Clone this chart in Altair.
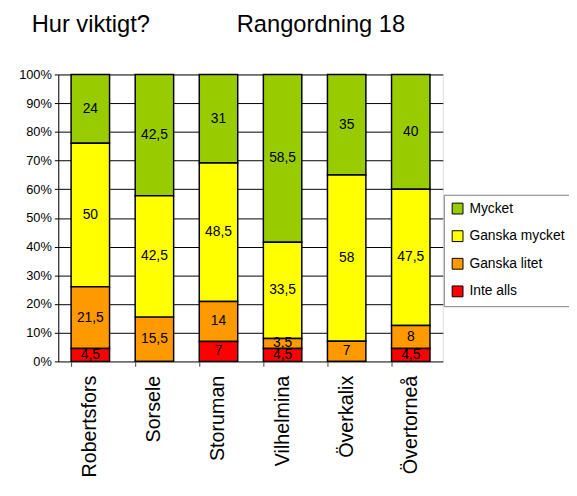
import altair as alt
import pandas as pd

categories = ["Robertsfors", "Sorsele", "Storuman", "Vilhelmina", "Överkalix", "Övertorneå"]
series = ["Mycket", "Ganska mycket", "Ganska litet", "Inte alls"]
colors = ["#99CC00", "#FFFF00", "#FF9900", "#FF0000"]
mycket = [24, 42.5, 31, 58.5, 35, 40]
ganska_mycket = [50, 42.5, 48.5, 33.5, 58, 47.5]
ganska_litet = [21.5, 15.5, 14, 3.5, 7, 8]
inte_alls = [4.5, 0, 7, 4.5, 0, 4.5]
title_left = "Hur viktigt?"
title_right = "Rangordning 18"
y_ticks = [i / 10 for i in range(11)]

rows = []
for ser_i, (name, vals) in enumerate(zip(series, [mycket, ganska_mycket, ganska_litet, inte_alls])):
    for cat, v in zip(categories, vals):
        rows.append({"cat": cat, "serie": name, "value": v, "ord": 3 - ser_i})
df = pd.DataFrame(rows)

FONT = "Liberation Sans"

base = alt.Chart(df).transform_stack(
    stack="value", groupby=["cat"], as_=["v0", "v1"],
    sort=[alt.SortField("ord", order="ascending")], offset="normalize"
).transform_calculate(
    mid="(datum.v0 + datum.v1) / 2",
    label="replace(format(datum.value, ''), '.', ',')"
)

xaxis = alt.Axis(labelAngle=270, labelFontSize=20, labelFont=FONT, labelColor="black",
                 bandPosition=0, tickColor="#404040", tickSize=5, labelPadding=9,
                 domainColor="#808080", grid=False)
yaxis = alt.Axis(values=y_ticks, format="%", labelFontSize=13, labelFont=FONT,
                 labelColor="black", grid=True, gridColor="black", gridWidth=1,
                 domainColor="black", tickColor="black", tickSize=4, labelPadding=3,
                 labelOverlap=False)
xscale = alt.Scale(paddingInner=0.4, paddingOuter=0.2)
yscale = alt.Scale(domain=[0, 1])

bars = base.mark_bar(stroke="black", strokeWidth=1.5).encode(
    x=alt.X("cat:N", sort=categories, title=None, scale=xscale, axis=xaxis),
    y=alt.Y("v0:Q", title=None, scale=yscale, axis=yaxis),
    y2="v1:Q",
    color=alt.Color("serie:N", scale=alt.Scale(domain=series, range=colors),
                    legend=alt.Legend(title=None, orient="none", legendX=391, legendY=122,
                                      symbolType="square", symbolSize=121,
                                      symbolStrokeColor="black", symbolStrokeWidth=1,
                                      labelFontSize=14, labelFont=FONT, labelColor="black",
                                      labelOffset=5, rowPadding=12, padding=7,
                                      strokeColor="#808080", fillColor="white",
                                      symbolOpacity=1)),
)

texts = base.transform_filter("datum.value > 0").mark_text(
    fontSize=14, font=FONT, color="black", baseline="middle"
).encode(
    x=alt.X("cat:N", sort=categories, title=None, scale=xscale, axis=xaxis),
    y=alt.Y("mid:Q", title=None, scale=yscale, axis=yaxis),
    text="label:N",
)

t1 = alt.Chart(pd.DataFrame({"t": [title_left]})).mark_text(
    fontSize=24, font=FONT, color="black", align="left", baseline="alphabetic"
).encode(x=alt.value(-27), y=alt.value(-43), text="t:N")

t2 = alt.Chart(pd.DataFrame({"t": [title_right]})).mark_text(
    fontSize=24, font=FONT, color="black", align="left", baseline="alphabetic"
).encode(x=alt.value(181), y=alt.value(-43), text="t:N")

chart = alt.layer(bars, texts, t1, t2).properties(
    width=390, height=291,
    autosize=alt.AutoSizeParams(type="none"),
    padding={"left": 51, "top": 64, "right": 128, "bottom": 125},
).configure_view(stroke="#808080").configure(background="white")

chart.save("out.html", embed_options={"renderer": "svg", "actions": False})
